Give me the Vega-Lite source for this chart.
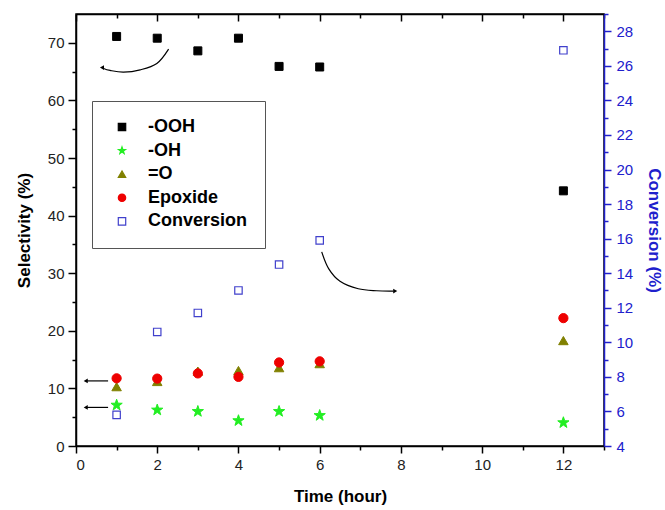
{
  "$schema": "https://vega.github.io/schema/vega-lite/v6.json",
  "width": 528,
  "height": 432,
  "autosize": {"type": "none"},
  "padding": {"left": 76, "top": 14, "right": 61, "bottom": 64},
  "background": "white",
  "config": {
    "view": {"stroke": "black", "strokeWidth": 1.5},
    "font": "Liberation Sans",
    "axis": {
      "grid": false,
      "labelFont": "Liberation Sans",
      "labelFontSize": 15,
      "labelColor": "#222222",
      "titleFont": "Liberation Sans",
      "titleFontSize": 17,
      "titleFontWeight": "bold",
      "titleColor": "black",
      "domainColor": "black",
      "domainWidth": 1.5,
      "tickColor": "black",
      "tickWidth": 1.5
    },
    "legend": {
      "orient": "none",
      "legendX": 16,
      "legendY": 87,
      "title": null,
      "labelFont": "Liberation Sans",
      "labelFontSize": 18,
      "labelFontWeight": "bold",
      "labelColor": "black",
      "strokeColor": "#555555",
      "strokeWidth": 1,
      "fillColor": "white",
      "padding": 17,
      "rowPadding": 5.6,
      "symbolOffset": 4,
      "labelOffset": 17,
      "symbolSize": 55,
      "symbolStrokeWidth": 1.2
    }
  },
  "datasets": {
    "sel": [
      {"time": 1, "series": "-OOH", "value": 71.1},
      {"time": 2, "series": "-OOH", "value": 70.8},
      {"time": 3, "series": "-OOH", "value": 68.6},
      {"time": 4, "series": "-OOH", "value": 70.8},
      {"time": 5, "series": "-OOH", "value": 65.9},
      {"time": 6, "series": "-OOH", "value": 65.8},
      {"time": 12, "series": "-OOH", "value": 44.3},
      {"time": 1, "series": "-OH", "value": 7.1},
      {"time": 2, "series": "-OH", "value": 6.25},
      {"time": 3, "series": "-OH", "value": 6.0},
      {"time": 4, "series": "-OH", "value": 4.4},
      {"time": 5, "series": "-OH", "value": 6.0},
      {"time": 6, "series": "-OH", "value": 5.3},
      {"time": 12, "series": "-OH", "value": 4.05},
      {"time": 1, "series": "=O", "value": 10.3},
      {"time": 2, "series": "=O", "value": 11.2},
      {"time": 3, "series": "=O", "value": 13.0},
      {"time": 4, "series": "=O", "value": 13.1},
      {"time": 5, "series": "=O", "value": 13.6},
      {"time": 6, "series": "=O", "value": 14.3},
      {"time": 12, "series": "=O", "value": 18.3},
      {"time": 1, "series": "Epoxide", "value": 11.75},
      {"time": 2, "series": "Epoxide", "value": 11.7},
      {"time": 3, "series": "Epoxide", "value": 12.6},
      {"time": 4, "series": "Epoxide", "value": 12.0},
      {"time": 5, "series": "Epoxide", "value": 14.5},
      {"time": 6, "series": "Epoxide", "value": 14.7},
      {"time": 12, "series": "Epoxide", "value": 22.2}
    ],
    "conv": [
      {"time": 1, "series": "Conversion", "value": 5.8},
      {"time": 2, "series": "Conversion", "value": 10.6},
      {"time": 3, "series": "Conversion", "value": 11.7},
      {"time": 4, "series": "Conversion", "value": 13.0},
      {"time": 5, "series": "Conversion", "value": 14.5},
      {"time": 6, "series": "Conversion", "value": 15.9},
      {"time": 12, "series": "Conversion", "value": 26.9}
    ],
    "arrowLines": [
      {"id": "a", "ord": 1, "x": 2.28, "y": 68.9},
      {"id": "a", "ord": 2, "x": 1.99, "y": 66.4},
      {"id": "a", "ord": 3, "x": 1.58, "y": 65.3},
      {"id": "a", "ord": 4, "x": 1.17, "y": 64.9},
      {"id": "a", "ord": 5, "x": 0.84, "y": 65.2},
      {"id": "a", "ord": 6, "x": 0.68, "y": 65.55},
      {"id": "b", "ord": 1, "x": 6.05, "y": 33.7},
      {"id": "b", "ord": 2, "x": 6.22, "y": 30.8},
      {"id": "b", "ord": 3, "x": 6.5, "y": 28.6},
      {"id": "b", "ord": 4, "x": 6.95, "y": 27.3},
      {"id": "b", "ord": 5, "x": 7.4, "y": 26.95},
      {"id": "b", "ord": 6, "x": 7.82, "y": 26.9},
      {"id": "c", "ord": 1, "x": 0.26, "y": 11.3},
      {"id": "c", "ord": 2, "x": 0.79, "y": 11.3},
      {"id": "d", "ord": 1, "x": 0.26, "y": 6.7},
      {"id": "d", "ord": 2, "x": 0.79, "y": 6.7}
    ],
    "headsLeft": [
      {"x": 0.64, "y": 65.7},
      {"x": 0.24, "y": 11.3},
      {"x": 0.24, "y": 6.7}
    ],
    "headsRight": [
      {"x": 7.86, "y": 26.9}
    ]
  },
  "layer": [
    {
      "data": {"name": "sel"},
      "transform": [{"filter": "datum.series === '-OOH'"}],
      "mark": {"type": "point", "opacity": 1, "strokeWidth": 1, "size": 64},
      "encoding": {
        "x": {
          "field": "time", "type": "quantitative",
          "scale": {"domain": [0, 13], "nice": false, "zero": false},
          "axis": {
            "orient": "bottom",
            "title": "Time (hour)",
            "values": [0,1,2,3,4,5,6,7,8,9,10,11,12,13],
            "labelExpr": "datum.value % 2 === 0 ? datum.label : ''",
            "tickSize": {"condition": {"test": "datum.value % 2 === 0", "value": 7}, "value": 4},
            "labelPadding": 4,
            "titlePadding": 16
          }
        },
        "y": {
          "field": "value", "type": "quantitative",
          "scale": {"domain": [0, 75], "nice": false},
          "axis": {
            "orient": "left",
            "title": "Selectivity (%)",
            "values": [0,5,10,15,20,25,30,35,40,45,50,55,60,65,70],
            "labelExpr": "datum.value % 10 === 0 ? datum.label : ''",
            "tickSize": {"condition": {"test": "datum.value % 10 === 0", "value": 8}, "value": 4},
            "labelPadding": 4,
            "titlePadding": 14
          }
        },
        "fill": {
          "field": "series", "type": "nominal",
          "scale": {"domain": ["-OOH", "-OH", "=O", "Epoxide", "Conversion"], "range": ["#000000", "#22ee22", "#808000", "#ee0000", "#ffffff"]}
        },
        "stroke": {
          "field": "series", "type": "nominal",
          "scale": {"domain": ["-OOH", "-OH", "=O", "Epoxide", "Conversion"], "range": ["#000000", "#22ee22", "#808000", "#ee0000", "#4040cc"]}
        },
        "shape": {
          "field": "series", "type": "nominal",
          "scale": {"domain": ["-OOH", "-OH", "=O", "Epoxide", "Conversion"], "range": ["square", "M0,-1L0.235,-0.324L0.951,-0.309L0.38,0.124L0.588,0.809L0,0.4L-0.588,0.809L-0.38,0.124L-0.951,-0.309L-0.235,-0.324Z", "triangle-up", "circle", "square"]}
        }
      }
    },
    {
      "data": {"name": "sel"},
      "transform": [{"filter": "datum.series === '-OH'"}],
      "mark": {"type": "point", "opacity": 1, "strokeWidth": 1, "size": 140},
      "encoding": {
        "x": {
          "field": "time", "type": "quantitative",
          "scale": {"domain": [0, 13], "nice": false, "zero": false},
          "axis": {
            "orient": "top",
            "title": null,
            "labels": false,
            "values": [0,1,2,3,4,5,6,7,8,9,10,11,12,13],
            "tickSize": {"condition": {"test": "datum.value % 2 === 0", "value": -7}, "value": -4}
          }
        },
        "y": {"field": "value", "type": "quantitative", "scale": {"domain": [0, 75], "nice": false}, "axis": null},
        "fill": {"field": "series", "type": "nominal"},
        "stroke": {"field": "series", "type": "nominal"},
        "shape": {"field": "series", "type": "nominal"}
      }
    },
    {
      "data": {"name": "sel"},
      "transform": [{"filter": "datum.series === '=O'"}],
      "mark": {"type": "point", "opacity": 1, "strokeWidth": 1, "size": 90},
      "encoding": {
        "x": {"field": "time", "type": "quantitative", "scale": {"domain": [0, 13], "nice": false, "zero": false}, "axis": null},
        "y": {"field": "value", "type": "quantitative", "scale": {"domain": [0, 75], "nice": false}, "axis": null},
        "fill": {"field": "series", "type": "nominal"},
        "stroke": {"field": "series", "type": "nominal"},
        "shape": {"field": "series", "type": "nominal"}
      }
    },
    {
      "data": {"name": "sel"},
      "transform": [{"filter": "datum.series === 'Epoxide'"}],
      "mark": {"type": "point", "opacity": 1, "strokeWidth": 1, "size": 85},
      "encoding": {
        "x": {"field": "time", "type": "quantitative", "scale": {"domain": [0, 13], "nice": false, "zero": false}, "axis": null},
        "y": {"field": "value", "type": "quantitative", "scale": {"domain": [0, 75], "nice": false}, "axis": null},
        "fill": {"field": "series", "type": "nominal"},
        "stroke": {"field": "series", "type": "nominal"},
        "shape": {"field": "series", "type": "nominal"}
      }
    },
    {
      "data": {"name": "arrowLines"},
      "mark": {"type": "line", "interpolate": "cardinal", "color": "black", "strokeWidth": 1.2},
      "encoding": {
        "x": {"field": "x", "type": "quantitative", "scale": {"domain": [0, 13], "nice": false, "zero": false}, "axis": null},
        "y": {"field": "y", "type": "quantitative", "scale": {"domain": [0, 75], "nice": false}, "axis": null},
        "detail": {"field": "id", "type": "nominal"},
        "order": {"field": "ord", "type": "quantitative"}
      }
    },
    {
      "data": {"name": "headsLeft"},
      "mark": {"type": "point", "shape": "triangle-left", "filled": true, "color": "black", "opacity": 1, "size": 22},
      "encoding": {
        "x": {"field": "x", "type": "quantitative", "scale": {"domain": [0, 13], "nice": false, "zero": false}, "axis": null},
        "y": {"field": "y", "type": "quantitative", "scale": {"domain": [0, 75], "nice": false}, "axis": null}
      }
    },
    {
      "data": {"name": "headsRight"},
      "mark": {"type": "point", "shape": "triangle-right", "filled": true, "color": "black", "opacity": 1, "size": 22},
      "encoding": {
        "x": {"field": "x", "type": "quantitative", "scale": {"domain": [0, 13], "nice": false, "zero": false}, "axis": null},
        "y": {"field": "y", "type": "quantitative", "scale": {"domain": [0, 75], "nice": false}, "axis": null}
      }
    },
    {
      "data": {"name": "conv"},
      "mark": {"type": "point", "opacity": 1, "strokeWidth": 1.2, "size": 55},
      "encoding": {
        "x": {"field": "time", "type": "quantitative", "scale": {"domain": [0, 13], "nice": false, "zero": false}, "axis": null},
        "y": {
          "field": "value", "type": "quantitative",
          "scale": {"domain": [4, 29], "nice": false, "zero": false},
          "axis": {
            "orient": "right",
            "title": "Conversion (%)",
            "titleColor": "#2020cc",
            "labelColor": "#2020cc",
            "domainColor": "#2020cc",
            "tickColor": "#2020cc",
            "values": [4,5,6,7,8,9,10,11,12,13,14,15,16,17,18,19,20,21,22,23,24,25,26,27,28,29],
            "labelExpr": "datum.value % 2 === 0 ? datum.label : ''",
            "tickSize": {"condition": {"test": "datum.value % 2 === 0", "value": 7}, "value": 4},
            "labelPadding": 5,
            "titlePadding": 12
          }
        },
        "fill": {"field": "series", "type": "nominal"},
        "stroke": {"field": "series", "type": "nominal"},
        "shape": {"field": "series", "type": "nominal"}
      }
    }
  ],
  "resolve": {"scale": {"y": "independent", "x": "independent"}}
}
